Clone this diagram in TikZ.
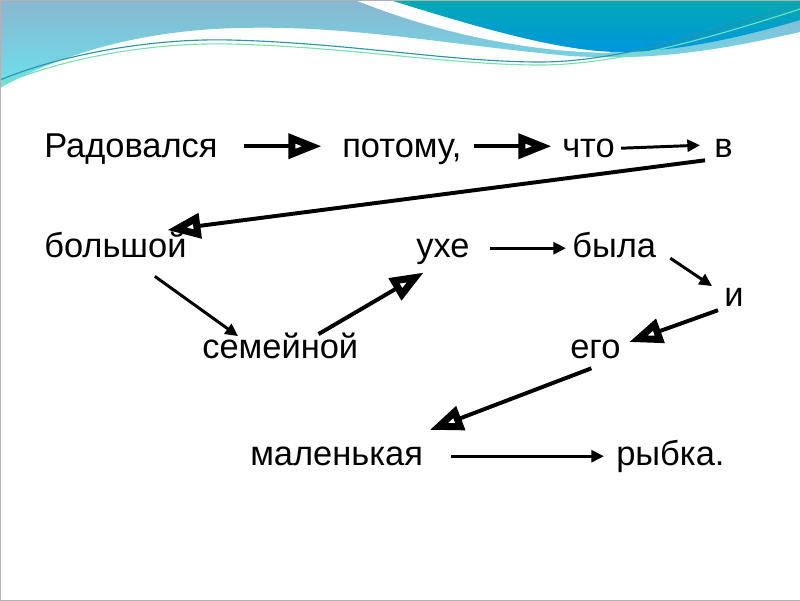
\documentclass[tikz,border=0pt]{standalone}
\usepackage{fontspec}
\setmainfont{Liberation Sans}
\usetikzlibrary{arrows.meta,calc}
\definecolor{headtop}{RGB}{136,182,208}
\definecolor{headbot}{RGB}{108,226,236}
\definecolor{tealtop}{RGB}{0,170,178}
\definecolor{tealbot}{RGB}{0,150,222}
\definecolor{lineteal}{RGB}{40,150,165}
\definecolor{linegreen}{RGB}{120,225,175}
\begin{document}
\begin{tikzpicture}[x=0.025cm,y=-0.025cm,
	word/.style={anchor=base west,inner sep=0pt,font=\fontsize{24.5}{29}\selectfont,text height=17.5pt,text depth=5pt},
	bigarrow/.style={line width=2.8pt,-{Triangle[open,length=24pt,width=17pt,line width=5pt]}},
	smallarrow/.style={line width=2.1pt,-{Triangle[length=9pt,width=8.5pt]}}]
	\useasboundingbox (0,0) rectangle (800,600);
	\fill[white] (0,0) rectangle (800,600);
	\shade[top color=headtop,bottom color=headbot] (0,0) -- (800,0) -- (800,32) .. controls (700,55) and (640,60) .. (570,56) .. controls (450,45) and (350,25) .. (240,28) .. controls (130,30) and (50,60) .. (0,88) -- cycle;
	\fill[white] (355,0) .. controls (450,38) and (540,52) .. (610,53) -- (610,0) -- cycle;
	\shade[top color=tealtop,bottom color=tealbot] (390,0) .. controls (470,25) and (560,52) .. (620,52) .. controls (680,52) and (750,35) .. (800,20) -- (800,0) -- cycle;
	\draw[lineteal,line width=0.8pt] (0,80) .. controls (60,55) and (150,38) .. (230,40) .. controls (350,43) and (450,62) .. (540,62) .. controls (620,62) and (720,30) .. (800,3);
	\draw[linegreen,line width=0.8pt] (0,85) .. controls (60,59) and (150,42) .. (230,44) .. controls (350,47) and (450,65) .. (540,65) .. controls (620,65) and (720,35) .. (800,9);
	\draw[gray!60,line width=0.6pt] (0,0) rectangle (800,600);
	\node[word] (rad) at (44,157) {Радовался};
	\node[word] (pot) at (342,157) {потому,};
	\node[word] (chto) at (562,157) {что};
	\node[word] (v) at (714,157) {в};
	\node[word] (bol) at (44,257) {большой};
	\node[word] (uhe) at (416,257) {ухе};
	\node[word] (byla) at (572,257) {была};
	\node[word] (i) at (724,306) {и};
	\node[word] (sem) at (202,358) {семейной};
	\node[word] (ego) at (570,358) {его};
	\node[word] (mal) at (250,465) {маленькая};
	\node[word] (ryb) at (616,465) {рыбка.};
	\draw[bigarrow] ($(rad.east)+(26,-2)$) -- ($(pot.west)+(-20,-2)$);
	\draw[bigarrow] ($(pot.east)+(12,-2)$) -- ($(chto.west)+(-10,-2)$);
	\draw[smallarrow] ($(chto.east)+(6,0)$) -- ($(v.west)+(-14,-3)$);
	\draw[bigarrow] ($(v.south west)+(-9,-4)$) -- ($(bol.north east)+(-20,-2)$);
	\draw[smallarrow] ($(bol.south east)+(-32,12)$) -- ($(sem.north west)+(36,3)$);
	\draw[bigarrow] ($(sem.north east)+(-40,1)$) -- ($(uhe.south west)+(8,8)$);
	\draw[smallarrow] ($(uhe.east)+(20,0)$) -- ($(byla.west)+(-6,0)$);
	\draw[smallarrow] ($(byla.east)+(14,10)$) -- ($(i.north west)+(-12,5)$);
	\draw[bigarrow] ($(i.west)+(-6,13)$) -- ($(ego.east)+(8,-7)$);
	\draw[bigarrow] ($(ego.south)+(-4,3)$) -- ($(mal.north east)+(6,-10)$);
	\draw[smallarrow] ($(mal.east)+(28,0)$) -- ($(ryb.west)+(-12,0)$);
\end{tikzpicture}
\end{document}
